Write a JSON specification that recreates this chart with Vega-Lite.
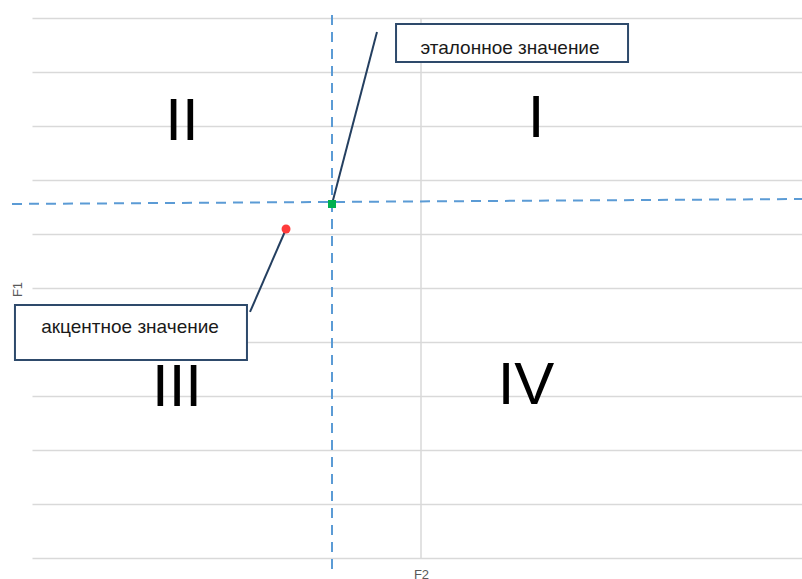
{
  "$schema": "https://vega.github.io/schema/vega-lite/v6.json",
  "width": 770,
  "height": 540,
  "autosize": {"type": "none"},
  "padding": {"left": 32, "top": 18, "right": 0, "bottom": 21},
  "background": "white",
  "config": {"view": {"stroke": null}, "font": "Liberation Sans"},
  "datasets": {
    "zero": [{"x": 0, "y": -5, "y2": 5}],
    "dashed": [
      {"x": -5.257, "y": 1.556, "x2": 4.897, "y2": 1.648},
      {"x": -1.144, "y": 5.056, "x2": -1.144, "y2": -5.278}
    ],
    "leaders": [
      {"x": -1.144, "y": 1.556, "x2": -0.566, "y2": 4.741},
      {"x": -1.735, "y": 1.093, "x2": -2.198, "y2": -0.444}
    ],
    "boxes": [
      {"label": "эталонное значение", "x": -0.321, "x2": 2.661, "y": 4.889, "y2": 4.185, "tx": 1.144, "ty": 4.333},
      {"label": "акцентное значение", "x": -5.219, "x2": -2.237, "y": -0.315, "y2": -1.333, "tx": -3.74, "ty": -0.833}
    ],
    "quadrants": [
      {"q": "I", "x": 1.478, "y": 2.796},
      {"q": "II", "x": -3.072, "y": 2.741},
      {"q": "III", "x": -3.136, "y": -2.185},
      {"q": "IV", "x": 1.35, "y": -2.148}
    ],
    "points": [
      {"kind": "эталонное", "x": -1.144, "y": 1.556},
      {"kind": "акцентное", "x": -1.735, "y": 1.093}
    ]
  },
  "layer": [
    {
      "data": {"name": "zero"},
      "mark": {"type": "rule", "color": "#d9d9d9", "strokeWidth": 1.5},
      "encoding": {
        "x": {
          "field": "x", "type": "quantitative",
          "scale": {"domain": [-5, 4.897], "nice": false, "zero": false},
          "axis": {"grid": false, "domain": false, "ticks": false, "labels": false, "title": "F2",
                   "titleX": 389, "titleY": 10, "titleBaseline": "top", "titleAlign": "center",
                   "titleColor": "#595959", "titleFontSize": 13, "titleFontWeight": "normal", "titleFont": "Liberation Sans"}
        },
        "y": {
          "field": "y", "type": "quantitative",
          "scale": {"domain": [-5, 5], "nice": false, "zero": false},
          "axis": {"grid": true, "gridColor": "#d9d9d9", "gridWidth": 1.5, "values": [-5,-4,-3,-2,-1,0,1,2,3,4,5],
                   "domain": false, "ticks": false, "labels": false, "title": "F1",
                   "titleX": -15, "titleY": 271, "titleAngle": -90, "titleBaseline": "middle", "titleAlign": "center",
                   "titleColor": "#595959", "titleFontSize": 13, "titleFontWeight": "normal", "titleFont": "Liberation Sans"}
        },
        "y2": {"field": "y2"}
      }
    },
    {
      "data": {"name": "quadrants"},
      "mark": {"type": "text", "fontSize": 60, "font": "Liberation Sans", "color": "black", "baseline": "alphabetic", "align": "center"},
      "encoding": {
        "x": {"field": "x", "type": "quantitative"},
        "y": {"field": "y", "type": "quantitative"},
        "text": {"field": "q"}
      }
    },
    {
      "data": {"name": "dashed"},
      "mark": {"type": "rule", "color": "#5B9BD5", "strokeWidth": 2, "strokeDash": [10, 7]},
      "encoding": {
        "x": {"field": "x", "type": "quantitative"},
        "y": {"field": "y", "type": "quantitative"},
        "x2": {"field": "x2"},
        "y2": {"field": "y2"}
      }
    },
    {
      "data": {"name": "leaders"},
      "mark": {"type": "rule", "color": "#243F60", "strokeWidth": 2},
      "encoding": {
        "x": {"field": "x", "type": "quantitative"},
        "y": {"field": "y", "type": "quantitative"},
        "x2": {"field": "x2"},
        "y2": {"field": "y2"}
      }
    },
    {
      "data": {"name": "boxes"},
      "mark": {"type": "rect", "fill": "white", "stroke": "#2E4A6B", "strokeWidth": 2},
      "encoding": {
        "x": {"field": "x", "type": "quantitative"},
        "x2": {"field": "x2"},
        "y": {"field": "y", "type": "quantitative"},
        "y2": {"field": "y2"}
      }
    },
    {
      "data": {"name": "boxes"},
      "mark": {"type": "text", "fontSize": 19, "font": "Liberation Sans", "color": "#1a1a1a", "baseline": "alphabetic", "align": "center"},
      "encoding": {
        "x": {"field": "tx", "type": "quantitative"},
        "y": {"field": "ty", "type": "quantitative"},
        "text": {"field": "label"}
      }
    },
    {
      "data": {"name": "points"},
      "mark": {"type": "point", "filled": true, "opacity": 1},
      "encoding": {
        "x": {"field": "x", "type": "quantitative"},
        "y": {"field": "y", "type": "quantitative"},
        "shape": {"field": "kind", "type": "nominal", "scale": {"domain": ["эталонное", "акцентное"], "range": ["square", "circle"]}, "legend": null},
        "color": {"field": "kind", "type": "nominal", "scale": {"domain": ["эталонное", "акцентное"], "range": ["#00B050", "#FF3B3B"]}, "legend": null},
        "size": {"field": "kind", "type": "nominal", "scale": {"domain": ["эталонное", "акцентное"], "range": [64, 80]}, "legend": null}
      }
    }
  ]
}
